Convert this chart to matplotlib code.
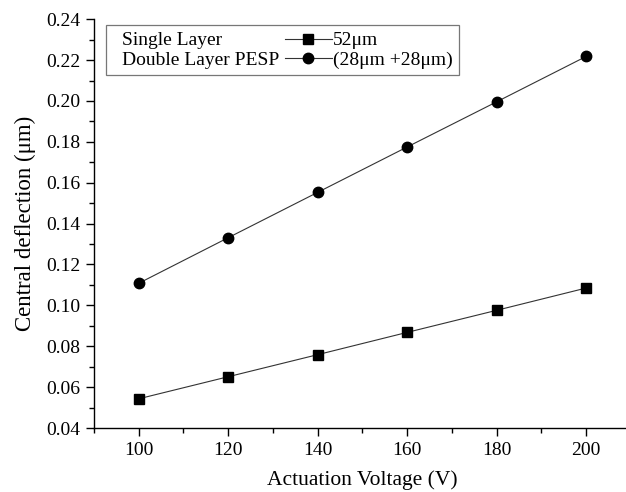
"""Central deflection vs actuation voltage"""

import matplotlib
matplotlib.use("Agg")
import matplotlib.pyplot as plt
from matplotlib.legend_handler import HandlerLine2D
from matplotlib.lines import Line2D
from matplotlib.ticker import MultipleLocator

voltage = [100, 120, 140, 160, 180, 200]
single_layer = [0.0543, 0.0651, 0.0759, 0.0868, 0.0976, 0.1085]
double_layer = [0.1108, 0.1331, 0.1553, 0.1775, 0.1996, 0.2218]

names = ["Single Layer", "Double Layer PESP"]
thickness = ["52\u03bcm", "(28\u03bcm +28\u03bcm)"]


class WideLine(HandlerLine2D):
    """Legend sample line drawn wider than its zero-width box"""

    def create_artists(self, legend, orig_handle, xdescent, ydescent,
                       width, height, fontsize, trans):
        return super().create_artists(legend, orig_handle, 0.62 * fontsize,
                                      ydescent, 2.42 * fontsize, height,
                                      fontsize, trans)


plt.rcParams["font.family"] = ["Liberation Serif", "DejaVu Serif"]

fig = plt.figure(figsize=(6.26, 4.92), dpi=100)
ax = fig.add_axes([0.150, 0.130, 0.858, 0.831])

l1, = ax.plot(voltage, single_layer, color="#333333", lw=0.8,
              marker="s", ms=7, mfc="black", mec="black")
l2, = ax.plot(voltage, double_layer, color="#333333", lw=0.8,
              marker="o", ms=7.5, mfc="black", mec="black")

ax.set_xlim(90, 210)
ax.set_ylim(0.04, 0.24)
ax.xaxis.set_major_locator(MultipleLocator(20))
ax.xaxis.set_minor_locator(MultipleLocator(10))
ax.yaxis.set_major_locator(MultipleLocator(0.02))
ax.yaxis.set_minor_locator(MultipleLocator(0.01))
ax.yaxis.set_major_formatter(lambda v, p: f"{v:.2f}")

for side in ["top", "right"]:
    ax.spines[side].set_visible(False)
for side in ["left", "bottom"]:
    ax.spines[side].set_linewidth(1.0)

ax.tick_params(which="major", direction="out", length=6, width=1.0,
               labelsize=14, pad=4)
ax.tick_params(which="minor", direction="out", length=3.5, width=1.0)

ax.set_xlabel("Actuation Voltage (V)", fontsize=15.5, labelpad=8)
ax.set_ylabel("Central deflection (\u03bcm)", fontsize=16.5, labelpad=7)

# three columns: name text, sample line, thickness text
blank = Line2D([], [], linestyle="none")
leg = ax.legend([blank, blank, l1, l2, blank, blank],
                names + ["", ""] + thickness,
                ncol=3, loc="upper left",
                bbox_to_anchor=(0.0223, 0.985), fontsize=14,
                handlelength=0, handletextpad=0.475, columnspacing=0.92,
                labelspacing=0.08, borderpad=0.33, borderaxespad=0,
                fancybox=False, edgecolor="#777777", framealpha=1,
                handler_map={l1: WideLine(), l2: WideLine()})
leg.get_frame().set_linewidth(0.9)

fig.savefig("out.png", dpi=100)
